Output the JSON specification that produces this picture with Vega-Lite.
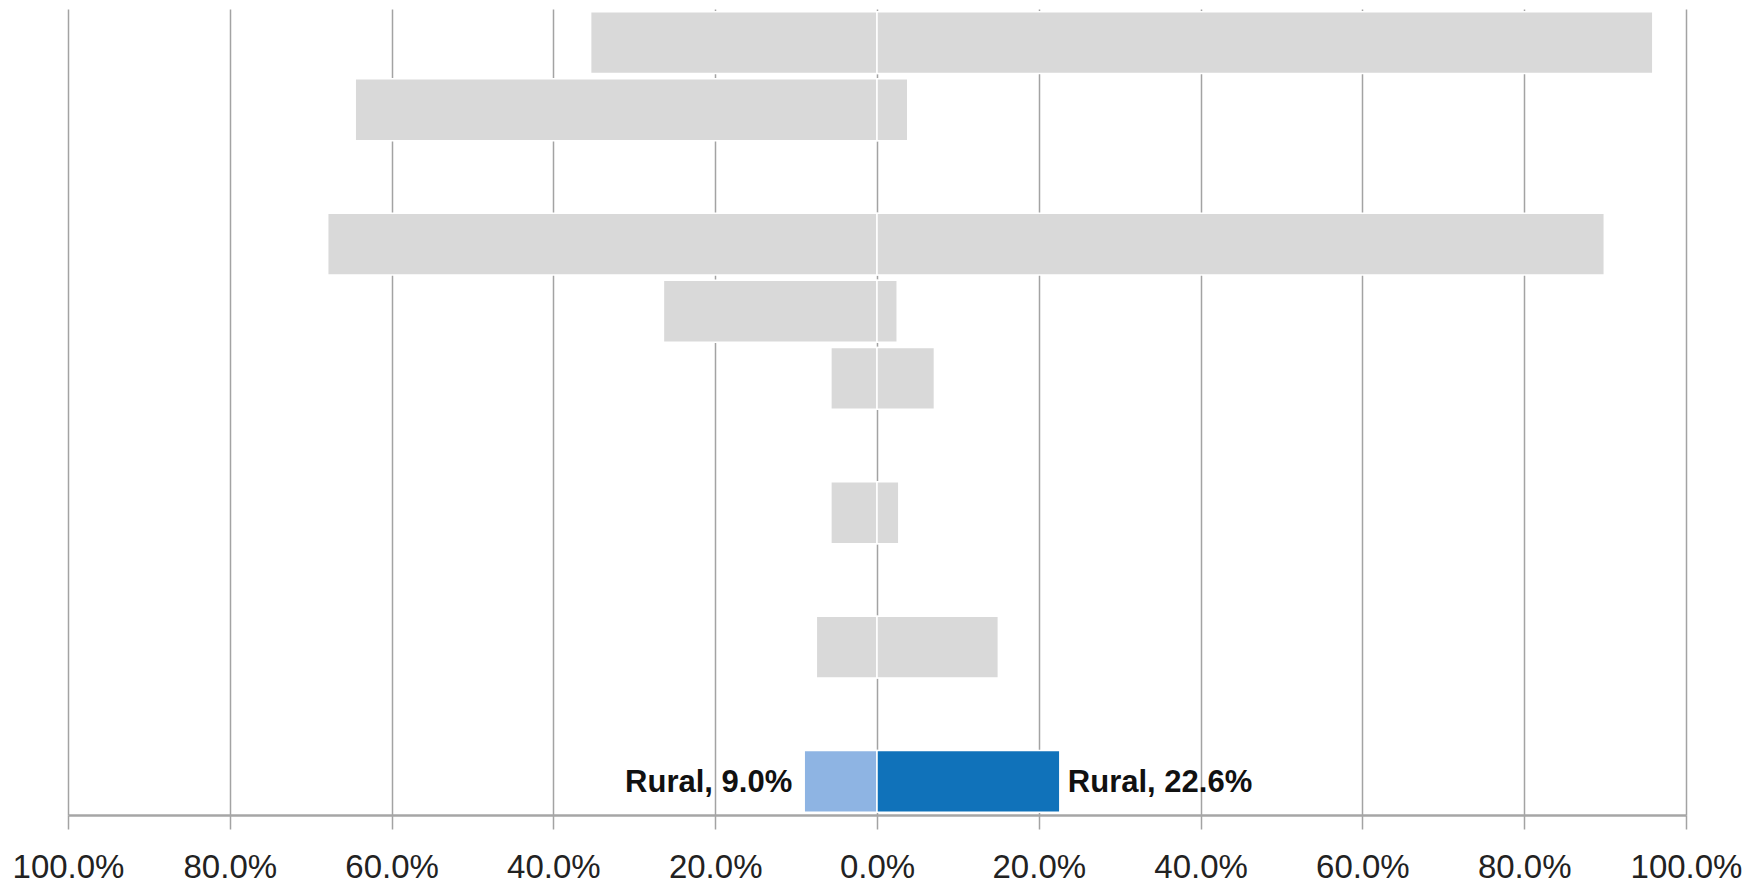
{
  "$schema": "https://vega.github.io/schema/vega-lite/v6.json",
  "autosize": "none",
  "width": 1618,
  "height": 806,
  "padding": {"left": 68, "top": 9, "right": 72, "bottom": 69},
  "background": "white",
  "config": {"view": {"stroke": null}},
  "data": {
    "values": [
      {"row": "Row 1", "series": "Other-left", "side": "left", "value": -0.354, "label": ""},
      {"row": "Row 1", "series": "Other-right", "side": "right", "value": 0.959, "label": ""},
      {"row": "Row 2", "series": "Other-left", "side": "left", "value": -0.645, "label": ""},
      {"row": "Row 2", "series": "Other-right", "side": "right", "value": 0.038, "label": ""},
      {"row": "Row 4", "series": "Other-left", "side": "left", "value": -0.679, "label": ""},
      {"row": "Row 4", "series": "Other-right", "side": "right", "value": 0.899, "label": ""},
      {"row": "Row 5", "series": "Other-left", "side": "left", "value": -0.264, "label": ""},
      {"row": "Row 5", "series": "Other-right", "side": "right", "value": 0.025, "label": ""},
      {"row": "Row 6", "series": "Other-left", "side": "left", "value": -0.057, "label": ""},
      {"row": "Row 6", "series": "Other-right", "side": "right", "value": 0.071, "label": ""},
      {"row": "Row 8", "series": "Other-left", "side": "left", "value": -0.057, "label": ""},
      {"row": "Row 8", "series": "Other-right", "side": "right", "value": 0.027, "label": ""},
      {"row": "Row 10", "series": "Other-left", "side": "left", "value": -0.075, "label": ""},
      {"row": "Row 10", "series": "Other-right", "side": "right", "value": 0.150, "label": ""},
      {"row": "Rural", "series": "Rural-left", "side": "left", "value": -0.090, "label": "Rural, 9.0%"},
      {"row": "Rural", "series": "Rural-right", "side": "right", "value": 0.226, "label": "Rural, 22.6%"}
    ]
  },
  "encoding": {
    "y": {
      "field": "row",
      "type": "nominal",
      "scale": {
        "domain": ["Row 1", "Row 2", "Row 3", "Row 4", "Row 5", "Row 6", "Row 7", "Row 8", "Row 9", "Row 10", "Row 11", "Rural"],
        "paddingInner": 0.08,
        "paddingOuter": 0.04
      },
      "axis": null
    }
  },
  "layer": [
    {
      "mark": {"type": "bar", "stroke": "white", "strokeWidth": 1.5},
      "encoding": {
        "x": {
          "field": "value",
          "type": "quantitative",
          "scale": {"domain": [-1, 1], "nice": false, "zero": true},
          "axis": {
            "title": null,
            "values": [-1, -0.8, -0.6, -0.4, -0.2, 0, 0.2, 0.4, 0.6, 0.8, 1],
            "labelExpr": "format(abs(datum.value), '.1%')",
            "labelFont": "Liberation Sans",
            "labelFontSize": 33,
            "labelColor": "#222222",
            "labelPadding": 22,
            "labelFlush": false,
            "labelOverlap": false,
            "grid": true,
            "gridColor": "#A3A3A3",
            "gridWidth": 1.5,
            "domainColor": "#A6A6A6",
            "domainWidth": 2.5,
            "tickColor": "#A3A3A3",
            "tickWidth": 1.5,
            "tickSize": 14
          }
        },
        "color": {
          "field": "series",
          "type": "nominal",
          "scale": {
            "domain": ["Other-left", "Other-right", "Rural-left", "Rural-right"],
            "range": ["#D9D9D9", "#D9D9D9", "#8EB4E3", "#1072BA"]
          },
          "legend": null
        }
      }
    },
    {
      "transform": [{"filter": "datum.label != '' && datum.side == 'left'"}],
      "mark": {"type": "text", "align": "right", "baseline": "middle", "dx": -12, "dy": 2, "font": "Liberation Sans", "fontSize": 31, "fontWeight": "bold", "color": "#111111"},
      "encoding": {
        "x": {"field": "value", "type": "quantitative"},
        "text": {"field": "label"}
      }
    },
    {
      "transform": [{"filter": "datum.label != '' && datum.side == 'right'"}],
      "mark": {"type": "text", "align": "left", "baseline": "middle", "dx": 8, "dy": 2, "font": "Liberation Sans", "fontSize": 31, "fontWeight": "bold", "color": "#111111"},
      "encoding": {
        "x": {"field": "value", "type": "quantitative"},
        "text": {"field": "label"}
      }
    }
  ]
}
